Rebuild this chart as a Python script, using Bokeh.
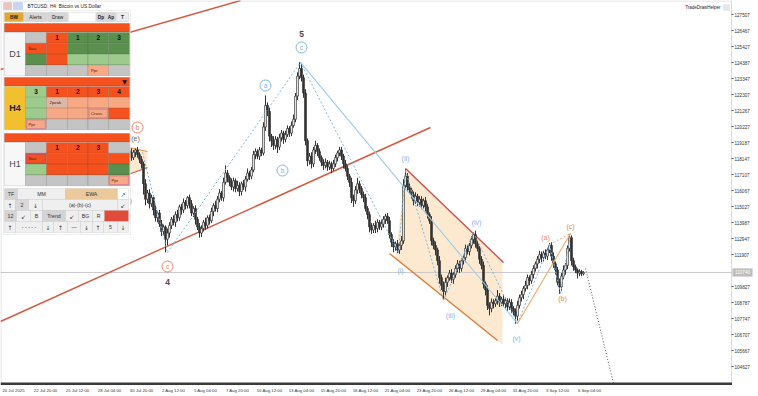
import numpy as np
from bokeh.plotting import figure
from bokeh.models import Range1d, FixedTicker, BoxAnnotation, Label, ColumnDataSource
from bokeh.core.properties import value
from bokeh.embed import file_html
from bokeh.resources import INLINE

# ---------------------------------------------------------------------------
# BTCUSD H4 bars; the x value is the bar number counted from 20 Jul 2025.
# ---------------------------------------------------------------------------
FIRST_BAR = 60
FIRST_OPEN = 118300
closes = [
    118400, 118600, 118300, 118650, 118500, 118200, 118550, 118700, 118400, 118100,
    117800, 116500, 115500, 115900, 115200, 115600, 114800, 114300, 114600, 113900,
    113400, 113700, 112900, 113300, 113800, 114200, 114000, 114500, 114300, 115000,
    114800, 115300, 115100, 115600, 115200, 114600, 114900, 114200, 113700, 113300,
    113600, 114000, 113800, 114300, 114100, 114700, 115100, 114900, 115500, 115900,
    115600, 116600, 117200, 116900, 116600, 116300, 116700, 116200, 116400, 116000,
    116500, 116300, 116800, 117200, 117000, 117400, 118400, 118600, 118300, 118700,
    118500, 120200, 121600, 121200, 119600, 119300, 119000, 119400, 118900, 119500,
    119800, 119400, 119700, 120100, 119800, 120300, 120700, 122200, 123500, 124000,
    123400, 122400, 119300, 118000, 118300, 117800, 118700, 119000, 118600, 118200,
    117900, 117700, 117900, 117600, 117800, 117500, 117800, 118200, 118500, 118700,
    118300, 117800, 117500, 117000, 116600, 115600, 115400, 116100, 116500, 116200,
    115800, 115600, 114900, 114500, 113700, 113500, 113800, 113600, 114000, 113700,
    113900, 114200, 114400, 114100, 113200, 112700, 112400, 112600, 112200, 112500,
    112800, 116400, 117000, 116300, 116100, 115800, 115400, 115700, 115300, 115500,
    115100, 115400, 115000, 114500, 114100, 112800, 112500, 112200, 111500, 110400,
    109900, 109500, 110100, 110400, 110700, 110300, 110600, 111000, 111300, 111000,
    111500, 111700, 112300, 112100, 112500, 112900, 113200, 112600, 112300, 111600,
    111200, 110000, 109600, 108600, 108400, 108800, 108700, 108900, 109200, 108800,
    109000, 108700, 108900, 108500, 108800, 108400, 108200, 107900, 108600, 109100,
    109300, 109700, 109900, 110400, 110200, 110600, 111000, 111300, 111600, 111900,
    111700, 112000, 111800, 112200, 112500, 111800, 111300, 110900, 110100, 109800,
    110500, 110900, 111200, 112300, 113000, 111500, 111100, 110900, 110700, 110800,
    110650, 110740,
]
upper_wicks = [
    200, 150, 250, 150, 200, 300, 150, 100, 200, 150,
    200, 150, 300, 200, 250, 200, 150, 300, 150, 200,
    250, 150, 100, 300, 200, 150, 250, 200, 300, 150,
    200, 250, 150, 100, 200, 250, 150, 200, 150, 250,
    200, 150, 300, 150, 200, 250, 150, 300, 200, 250,
    150, 300, 500, 200, 150, 250, 200, 150, 300, 200,
    150, 250, 200, 300, 150, 200, 250, 200, 150, 200,
    150, 300, 650, 200, 250, 150, 300, 200, 150, 250,
    200, 150, 250, 200, 150, 250, 300, 200, 250, 400,
    300, 200, 250, 150, 200, 250, 200, 300, 150, 200,
    150, 200, 250, 150, 200, 150, 250, 200, 150, 200,
    200, 150, 250, 200, 150, 300, 200, 250, 400, 200,
    150, 200, 250, 150, 200, 250, 150, 300, 200, 150,
    250, 200, 150, 200, 250, 150, 200, 150, 250, 200,
    300, 400, 450, 200, 250, 150, 200, 250, 150, 200,
    200, 150, 250, 200, 150, 300, 200, 250, 150, 300,
    200, 250, 300, 150, 200, 250, 150, 200, 250, 200,
    150, 200, 250, 200, 150, 200, 150, 250, 200, 150,
    200, 250, 150, 300, 200, 250, 200, 150, 400, 200,
    150, 250, 200, 150, 250, 200, 150, 200, 300, 200,
    250, 150, 300, 200, 150, 250, 200, 150, 200, 250,
    200, 150, 250, 150, 150, 200, 250, 150, 200, 250,
    200, 300, 150, 200, 250, 150, 200, 150, 100, 150,
    100, 80,
]
lower_wicks = [
    250, 200, 300, 150, 250, 200, 150, 300, 200, 250,
    300, 700, 400, 250, 300, 200, 350, 250, 300, 200,
    300, 250, 850, 400, 300, 250, 200, 300, 250, 200,
    300, 200, 250, 200, 300, 200, 250, 350, 200, 300,
    250, 200, 300, 200, 250, 150, 300, 200, 250, 200,
    200, 250, 150, 300, 250, 200, 300, 250, 200, 300,
    250, 200, 300, 150, 250, 200, 150, 300, 200, 250,
    200, 150, 250, 300, 350, 400, 300, 250, 400, 200,
    250, 300, 200, 150, 250, 200, 150, 200, 250, 200,
    250, 300, 300, 350, 250, 300, 200, 250, 300, 200,
    250, 300, 200, 250, 200, 300, 150, 200, 250, 200,
    250, 300, 200, 250, 300, 350, 400, 200, 250, 300,
    250, 300, 200, 300, 350, 250, 200, 300, 250, 200,
    200, 250, 300, 200, 250, 300, 350, 250, 200, 250,
    300, 200, 250, 300, 200, 250, 300, 200, 250, 300,
    250, 200, 300, 250, 200, 300, 250, 350, 300, 400,
    300, 500, 250, 300, 200, 250, 300, 200, 250, 300,
    200, 250, 300, 200, 250, 200, 300, 250, 200, 300,
    250, 300, 350, 300, 450, 250, 300, 200, 250, 300,
    250, 200, 300, 250, 200, 300, 250, 500, 300, 200,
    250, 300, 200, 250, 300, 200, 250, 200, 300, 250,
    300, 250, 200, 250, 200, 300, 250, 300, 200, 450,
    250, 200, 300, 250, 200, 300, 250, 200, 350, 200,
    150, 100,
]

price_ticks = [127507, 126467, 125427, 124387, 123347, 122307, 121267, 120227,
               119187, 118147, 117107, 116067, 115027, 113987, 112947, 111907,
               109827, 108787, 107747, 106707, 105667, 104627]
time_label_bars = [0, 16, 32, 48, 64, 80, 96, 112, 128, 144, 160, 176, 192,
                   208, 224, 240, 256, 272, 288]
time_labels = ["20 Jul 2025", "22 Jul 20:00", "25 Jul 12:00", "28 Jul 04:00",
               "30 Jul 20:00", "2 Aug 12:00", "5 Aug 04:00", "7 Aug 20:00",
               "10 Aug 12:00", "13 Aug 04:00", "15 Aug 20:00", "18 Aug 12:00",
               "21 Aug 04:00", "23 Aug 20:00", "26 Aug 12:00", "29 Aug 04:00",
               "31 Aug 20:00", "3 Sep 12:00", "6 Sep 04:00"]

# Wave pivots (bar, price)
wave_pts = {
    "e": (70.5, 118540), "4": (83, 112040), "5": (149.5, 124390),
    "i": (198.5, 112040), "ii": (202, 117370), "iii": (221, 108920),
    "iv": (236, 113340), "v": (258, 107420), "a": (274, 112560),
    "b": (279.5, 109370), "c": (284.5, 113270),
}
# Trend lines (bar0, price0, bar1, price1)
support_line = (-0.5, 107552, 214.5, 120162)
upper_line = (-0.5, 123932, 119.5, 128417)
channel_top = (202, 117497, 251, 111387)
channel_bottom = (194, 111972, 248, 106317)
projection = (292, 110997, 306, 103522)

# Labels: (text, bar, price)
circled_blue = [("c", 150, 125362), ("a", 132, 122892), ("b", 140.5, 117367)]
circled_red = [("c", 83, 111127), ("b", 68, 120162)]
paren_blue = [("(ii)", 202, 118147), ("(i)", 199.5, 110867), ("(iii)", 224.5, 107942),
              ("(iv)", 237.5, 113987), ("(v)", 257.5, 106447)]
paren_red = [("(a)", 272, 113012), ("(b)", 280.5, 109047), ("(c)", 284.5, 113727)]
paren_gray = [("(e)", 67, 119447), ("(d)", 63, 115417)]
degree_labels = [("5", 150, 126272), ("4", 83, 110152)]

BLUE = "#7fb5dc"
SALMON = "#e8816a"

# Chart area: bars 2 px apart, 65 USD per pixel; the price scale and the time
# scale are drawn at the right and bottom edges of the plotting region.
LAST_VISIBLE_BAR = 365
SCALE_BOTTOM = 103522
p = figure(width=758, height=396, output_backend="svg", toolbar_location=None,
           x_range=Range1d(-0.5, 378.5), y_range=Range1d(102677, 128417),
           y_axis_location="right", min_border_left=0, min_border_right=0,
           min_border_top=0, min_border_bottom=0,
           background_fill_color="white", border_fill_color="white",
           outline_line_color=None)
p.grid.visible = False

yax = p.yaxis[0]
yax.fixed_location = LAST_VISIBLE_BAR
yax.ticker = FixedTicker(ticks=price_ticks)
yax.major_label_overrides = {t: str(t) for t in price_ticks}
yax.major_label_text_font = "Liberation Sans"
yax.major_label_text_font_size = "4.6px"
yax.major_label_text_color = "#333333"
yax.axis_line_color = None
yax.major_tick_out = 2
yax.major_tick_in = 0
yax.major_tick_line_color = "#555555"
yax.minor_tick_line_color = None
yax.major_label_standoff = 1

LABEL_SHIFT = 6  # centre the time labels to the right of their bar
xticks = [b + LABEL_SHIFT for b in time_label_bars]
xax = p.xaxis[0]
xax.fixed_location = SCALE_BOTTOM
xax.ticker = FixedTicker(ticks=xticks)
xax.major_label_overrides = {t: s for t, s in zip(xticks, time_labels)}
xax.major_label_text_font = "Liberation Sans"
xax.major_label_text_font_size = "4.3px"
xax.major_label_text_color = "#333333"
xax.axis_line_color = None
xax.major_tick_out = 0
xax.major_tick_in = 0
xax.minor_tick_line_color = None
xax.major_label_standoff = 4

# --- shaded zones -----------------------------------------------------------
p.patch(x=[197, 202, 250.5, 250.5], y=[111647, 117497, 111387, 106057],
        fill_color="#fde3c4", fill_alpha=0.8, line_color=None)
p.patch(x=[62, 73, 73, 62], y=[118950, 118600, 117560, 117040],
        fill_color="#fde3c4", fill_alpha=0.8, line_color=None)

# --- current price line -----------------------------------------------------
last_close = closes[-1]
p.segment(x0=[-0.5], y0=[last_close], x1=[LAST_VISIBLE_BAR], y1=[last_close],
          line_color="#c9c9c9", line_width=1)

# --- trend lines ------------------------------------------------------------
def seg(line, color, width=1.3, dash="solid"):
    x0, y0, x1, y1 = line
    p.line([x0, x1], [y0, y1], line_color=color, line_width=width, line_dash=dash)

seg(support_line, "#d4583f", 1.4)
seg(upper_line, "#d4583f", 1.4)
seg(channel_top, "#c9524a", 1.4)
seg(channel_bottom, "#e07b39", 1.4)
seg((63.5, 118862, 73, 118602), "#e8924a", 1.2)
seg((62, 117042, 73, 117562), "#d4583f", 1.2)

# --- candles ----------------------------------------------------------------
bars = np.arange(FIRST_BAR, FIRST_BAR + len(closes))
n = len(bars)
o = np.array([FIRST_OPEN] + closes[:-1], dtype=float)[:n]
c = np.array(closes, dtype=float)
hi = np.maximum(o, c) + np.array(upper_wicks[:n], dtype=float)
lo = np.minimum(o, c) - np.array(lower_wicks[:n], dtype=float)
rising = c >= o
src = ColumnDataSource(dict(
    x=bars, hi=hi, lo=lo, top=np.maximum(o, c), bot=np.minimum(o, c),
    fill=np.where(rising, "#f4f4f4", "#333333")))
p.segment("x", "hi", "x", "lo", source=src, line_color="#333333", line_width=1)
p.vbar(x="x", width=0.95, top="top", bottom="bot", fill_color="fill",
       line_color="#333333", line_width=0.7, source=src)

# --- wave connectors --------------------------------------------------------
def link(a, b, color=BLUE, dash="2 2", width=1):
    (x0, y0), (x1, y1) = wave_pts[a], wave_pts[b]
    p.line([x0, x1], [y0, y1], line_color=color, line_width=width, line_dash=dash)

for a, b in [("e", "4"), ("4", "5"), ("5", "i"), ("i", "ii"), ("ii", "iii"),
             ("iii", "iv"), ("iv", "v"), ("v", "a"), ("a", "b"), ("b", "c")]:
    link(a, b)
link("5", "v", color="#9ccbe6", dash="solid", width=1.1)
link("v", "c", color="#eeaa6a", dash="solid", width=1.1)
link("a", "c", color="#f0a090", dash="2 2", width=1)
seg(projection, "#555555", 1, "1 2")

# --- wave labels ------------------------------------------------------------
def circled(items, color):
    xs = [i[1] for i in items]
    ys = [i[2] for i in items]
    p.scatter(xs, ys, marker="circle", size=11, fill_color="white", fill_alpha=0.6,
              line_color=color, line_width=1)
    p.text(xs, ys, text=[i[0] for i in items], text_color=color,
           text_font=value("Liberation Sans"), text_font_size="6.5px",
           text_align="center", text_baseline="middle", y_offset=-0.5)

def plain(items, color, size="7px", style="normal"):
    p.text([i[1] for i in items], [i[2] for i in items], text=[i[0] for i in items],
           text_color=color, text_font=value("Liberation Sans"), text_font_size=size,
           text_font_style=style, text_align="center", text_baseline="middle")

circled(circled_blue, BLUE)
circled(circled_red, SALMON)
plain(paren_blue, BLUE)
plain(paren_red, SALMON)
plain(paren_gray, "#666666")
plain(degree_labels, "#4a4a4a", size="8.5px", style="bold")

# --- chart window chrome ----------------------------------------------------
FL, FB = 0, 396  # plotting region left / bottom, in page pixels

def sbox(x0, y0, x1, y1, fill, line="#707070", width=0.6):
    p.add_layout(BoxAnnotation(
        left=x0 - FL, right=x1 - FL, top=FB - y0, bottom=FB - y1,
        left_units="screen", right_units="screen", top_units="screen",
        bottom_units="screen", fill_color=fill, fill_alpha=1.0,
        line_color=line, line_width=width, level="overlay"))

def stext(x, y, text, size=5.0, bold=False, color="#1a1a1a", align="center",
          font="Liberation Sans"):
    p.add_layout(Label(
        x=x - FL, y=FB - y, x_units="screen", y_units="screen", text=text,
        text_font=font, text_font_size=f"{size}px",
        text_font_style="bold" if bold else "normal", text_color=color,
        text_align=align, text_baseline="middle", level="overlay"))

# chart window edges: thin grey border, heavier base line above the time scale
sbox(0.5, 0.5, 731, 383, None, line="#8a8a8a", width=1)
sbox(0, 382, 731.5, 384.5, "#3a3a3a", line=None)

# price tag on the scale, at the last close
tag_y = FB - FB * (last_close - p.y_range.start) / (p.y_range.end - p.y_range.start)
sbox(732, tag_y - 4, 752, tag_y + 4, "#bdbdbd", line="#bdbdbd", width=0.5)
stext(742, tag_y, str(last_close), size=4.6, color="#ffffff")

# window title and indicator name
sbox(3, 2, 11, 9, "#e9c4c4", line="#b05050", width=0.5)
sbox(13, 2, 22, 9, "#c6d6f2", line="#4a6fb0", width=0.5)
stext(27, 6, "BTCUSD, H4: Bitcoin vs US Dollar", size=4.8, align="left", color="#222222")
stext(720, 7, "TradeDrawHelper", size=4.5, align="right", color="#222222")
sbox(723, 4, 729, 10, "#e6e6e6", line="#c0c0c0", width=0.5)

# --- TradeDrawHelper panel --------------------------------------------------
OR, GD, GL, GY, SL, PK = "#f4511e", "#5b8f4d", "#9dcb8c", "#c4c4c4", "#f7a986", "#dcb8a8"
PURPLE = "#8e3fb0"

sbox(3, 10, 130, 234, "#ffffff", line="#9a9a9a", width=0.6)

# toolbar
for x0, x1, fill, txt, bold in [(4, 23, "#e2a72e", "BW", True), (24, 46, "#d6d6d6", "Alerts", False),
                                (47, 67, "#d6d6d6", "Draw", False), (68, 95, "#ffffff", "", False),
                                (96, 105, "#d6d6d6", "Dp", True), (106, 115, "#d6d6d6", "Ap", True),
                                (116, 128, "#ececec", "T", True)]:
    sbox(x0, 12, x1, 21, fill, line="#8a8a8a")
    if txt:
        stext((x0 + x1) / 2, 16.5, txt, size=4.8, bold=bold)

cols = [25, 46, 67, 87.5, 108, 129]
blocks = [
    ("D1", 23, 32, "#f7f7f7", False, [
        [(GY, ""), (OR, "1"), (GD, "1"), (GD, "2"), (GD, "3")],
        [(OR, "Sau"), (OR, ""), (GD, ""), (GD, ""), (GD, "")],
        [(GD, ""), (OR, ""), (GL, ""), (GL, ""), (GL, "")],
        [(GY, ""), (GY, ""), (GY, ""), (SL, "Ppr"), (GY, "")]]),
    ("H4", 77, 86, "#f2bf2f", True, [
        [(GL, "3"), (OR, "1"), (OR, "2"), (OR, "3"), (OR, "4")],
        [(GL, ""), (PK, "2peak"), (SL, ""), (SL, ""), (SL, "")],
        [(GL, ""), (SL, ""), (SL, ""), (SL, "Cross*"), (OR, "")],
        [(SL, "Ppr*"), (GY, ""), (GY, ""), (GY, ""), (GY, "")]]),
    ("H1", 133, 142, "#f7f7f7", False, [
        [(GY, ""), (OR, "1"), (OR, "2"), (OR, "3"), (GY, "")],
        [(OR, "Sau*"), (OR, ""), (OR, ""), (OR, ""), (OR, "")],
        [(GL, ""), (OR, ""), (OR, ""), (OR, ""), (GD, "")],
        [(GY, ""), (GY, ""), (GY, ""), (GY, ""), (SL, "Ppr*")]]),
]
ROW_H = 10.8
for name, bar_y, top, label_fill, label_bold, grid in blocks:
    sbox(4, bar_y, 129, bar_y + 8.5, OR, line="#5a3020", width=0.8)
    if name == "H4":
        stext(124, bar_y + 4.3, "▼", size=6, font="DejaVu Sans", color="#111111")
    bottom = top + 4 * ROW_H
    sbox(4, top, cols[0], bottom, label_fill, line="#707070")
    stext((4 + cols[0]) / 2, (top + bottom) / 2, name, size=9, bold=label_bold,
          color="#222222" if label_bold else "#4a4a4a")
    for r, row in enumerate(grid):
        y0 = top + r * ROW_H
        y1 = y0 + ROW_H
        for k, (fill, txt) in enumerate(row):
            x0, x1 = cols[k], cols[k + 1]
            sbox(x0, y0, x1, y1, fill, line="#4a4a4a")
            framed = txt.endswith("*")
            txt = txt.rstrip("*")
            if framed:
                sbox(x0 + 1, y0 + 1, x1 - 1, y1 - 1, fill, line=PURPLE, width=1.4)
            if txt.isdigit():
                stext((x0 + x1) / 2, (y0 + y1) / 2, txt, size=6.5, bold=True, color="#111111")
            elif txt:
                stext(x0 + 3, (y0 + y1) / 2, txt, size=4.3, align="left", color="#5a1500")

# control grid
ctrl_rows = [
    (188, [(4, 17, "#d4d4d4", "TF"), (17, 65, "#efefef", "MM"), (65, 117, "#ebc99b", "EWA"),
           (117, 128, "#ffffff", "↗")]),
    (199, [(4, 15, "#efefef", "↑"), (15, 28, "#d8d8d8", "2"), (28, 42, "#efefef", "↓"),
           (42, 117, "#efefef", "(a)-(b)-(c)"), (117, 128, "#efefef", "↙")]),
    (210, [(4, 16, "#d4d4d4", "12"), (16, 30, "#efefef", "↙"), (30, 42, "#efefef", "B"),
           (42, 65, "#d4d4d4", "Trend"), (65, 78, "#efefef", "↙"), (78, 92, "#efefef", "BG"),
           (92, 104, "#efefef", "R"), (104, 128, "#e24b3b", "")]),
    (221, [(4, 15, "#efefef", "↑"), (15, 42, "#efefef", "- - - - -"), (42, 53, "#efefef", "↓"),
           (53, 67, "#efefef", "↑"), (67, 80, "#efefef", "—"), (80, 92, "#efefef", "↓"),
           (92, 103, "#efefef", "↑"), (103, 117, "#efefef", "5"), (117, 128, "#efefef", "↓")]),
]
for y0, cells in ctrl_rows:
    for x0, x1, fill, txt in cells:
        sbox(x0, y0, x1, y0 + 11, fill, line="#9a9a9a")
        if txt:
            arrow = txt in ("↑", "↓", "↗", "↙")
            stext((x0 + x1) / 2, y0 + 5.5, txt, size=6 if arrow else 5.2,
                  font="DejaVu Sans" if arrow else "Liberation Sans", color="#333333")

open("out.html", "w").write(file_html(p, INLINE))
